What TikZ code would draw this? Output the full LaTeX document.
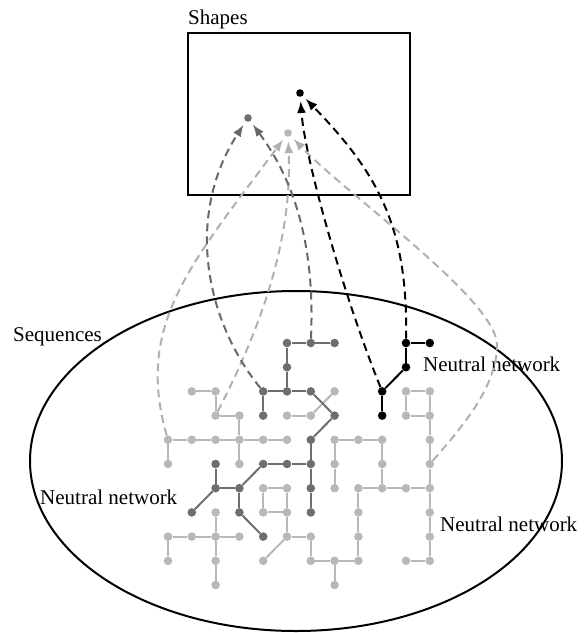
\documentclass[tikz,border=0pt]{standalone}
\usepackage{fontspec}
\setmainfont{Liberation Serif}
\usetikzlibrary{arrows.meta}
\definecolor{lg}{HTML}{B8B8B8}
\definecolor{dg}{HTML}{6E6E6E}
\definecolor{lgd}{HTML}{B0B0B0}
\definecolor{dgd}{HTML}{686868}
\begin{document}
\begin{tikzpicture}[x=1pt,y=-1pt,
  dot/.style={circle,inner sep=0pt,minimum size=8.6pt,fill=#1,draw=none},
  lnode/.style={dot=lg},
  dnode/.style={dot=dg},
  bnode/.style={dot=black},
  spt/.style={circle,inner sep=0pt,minimum size=7.6pt,fill=#1,draw=none},
  ledge/.style={draw=lg,line width=2pt},
  dedge/.style={draw=dg,line width=2pt},
  bedge/.style={draw=black,line width=2pt},
  dasharr/.style={line width=2pt,dash pattern=on 8pt off 5pt,
    -{Latex[length=12pt,width=9pt]},shorten >=4pt,draw=#1},
  lbl/.style={anchor=base west,inner sep=0pt,font=\fontsize{21}{25}\selectfont}
]
\useasboundingbox (0,0) rectangle (585,633);

% frames
\node[draw,line width=1.8pt,minimum width=222pt,minimum height=162pt,inner sep=0pt,anchor=north west] (box) at (187,32) {};
\draw[line width=2pt] (296,461) ellipse [x radius=266, y radius=170];

% labels
\node[lbl] (tshapes) at (188,24) {Shapes};
\node[lbl] (tseq) at (13,341) {Sequences};
\node[lbl] (tnn1) at (423,371) {Neutral network};
\node[lbl] (tnn2) at (440,531) {Neutral network};
\node[lbl] (tnn3) at (40,504) {Neutral network};

% shape points
\node[spt=black] (K) at (300,93) {};
\node[spt=dg] (D) at (248,118) {};
\node[spt=lg] (L) at (288,133) {};

% lattice nodes
\foreach \c/\r in {1/2,2/2,7/2,10/2,11/2, 2/3,3/3,5/3,6/3,10/3,11/3,
  0/4,1/4,2/4,3/4,4/4,5/4,7/4,8/4,9/4,11/4, 0/5,3/5,7/5,9/5,11/5,
  4/6,5/6,7/6,8/6,9/6,10/6,11/6, 2/7,4/7,5/7,8/7,11/7,
  0/8,1/8,2/8,3/8,5/8,6/8,8/8,11/8, 0/9,2/9,4/9,6/9,7/9,8/9,10/9,11/9,
  2/10,7/10}
  \node[lnode] (n-\c-\r) at ({168+23.8*\c},{343+24.2*\r}) {};
\foreach \c/\r in {5/0,6/0,7/0,5/1,4/2,5/2,6/2,4/3,7/3,6/4,2/5,4/5,5/5,6/5,
  2/6,3/6,6/6,1/7,3/7,6/7,4/8}
  \node[dnode] (n-\c-\r) at ({168+23.8*\c},{343+24.2*\r}) {};
\foreach \c/\r in {10/0,11/0,10/1,9/2,9/3}
  \node[bnode] (n-\c-\r) at ({168+23.8*\c},{343+24.2*\r}) {};

% lattice edges
\foreach \a/\b in {1-2/2-2, 2-2/2-3, 2-3/3-3, 3-3/3-4, 7-2/6-3, 5-3/6-3,
  0-4/1-4, 1-4/2-4, 2-4/3-4, 3-4/4-4, 4-4/5-4, 0-4/0-5, 3-4/3-5,
  7-4/8-4, 8-4/9-4, 7-4/7-5, 7-5/7-6, 9-4/9-5, 9-5/9-6,
  10-2/11-2, 10-2/10-3, 11-2/11-3, 10-3/11-3, 11-3/11-4, 11-4/11-5, 11-5/11-6,
  8-6/9-6, 9-6/10-6, 10-6/11-6, 8-6/8-7, 8-7/8-8, 8-8/8-9, 7-9/8-9, 7-9/7-10, 6-9/7-9,
  11-6/11-7, 11-7/11-8, 11-8/11-9, 10-9/11-9,
  4-6/5-6, 4-6/4-7, 4-7/5-7, 5-6/5-7, 5-7/5-8, 5-8/4-9, 5-8/6-8, 6-8/6-9,
  2-7/2-8, 2-8/2-9, 2-9/2-10, 0-8/1-8, 1-8/2-8, 2-8/3-8, 0-8/0-9}
  \draw[ledge] (n-\a) -- (n-\b);
\foreach \a/\b in {5-0/6-0, 6-0/7-0, 5-0/5-1, 5-1/5-2, 4-2/5-2, 5-2/6-2, 4-2/4-3,
  6-2/7-3, 7-3/6-4, 6-4/6-5, 6-5/6-6, 6-6/6-7, 4-5/5-5, 5-5/6-5, 4-5/3-6,
  2-5/2-6, 2-6/3-6, 2-6/1-7, 3-6/3-7, 3-7/4-8}
  \draw[dedge] (n-\a) -- (n-\b);
\foreach \a/\b in {10-0/11-0, 10-0/10-1, 10-1/9-2, 9-2/9-3}
  \draw[bedge] (n-\a) -- (n-\b);

% mapping arrows
\coordinate (pk) at (497,345);
\draw[dasharr=lgd] (n-0-4) .. controls (135,325) and (190,265) .. (L);
\draw[dasharr=lgd] (n-2-3) .. controls (265,320) and (292,235) .. (L);
\draw[dasharr=lgd] (n-11-5) .. controls (465,424) and (497,385) .. (pk)
  .. controls (497,300) and (346,194) .. (L);
\draw[dasharr=dgd] (n-4-2) .. controls (205,320) and (185,215) .. (D);
\draw[dasharr=dgd] (n-6-0) .. controls (314,270) and (305,195) .. (D);
\draw[dasharr=black] (n-9-2) .. controls (345,300) and (305,160) .. (K);
\draw[dasharr=black] (n-10-0) .. controls (408,230) and (380,175) .. (K);
\end{tikzpicture}
\end{document}
